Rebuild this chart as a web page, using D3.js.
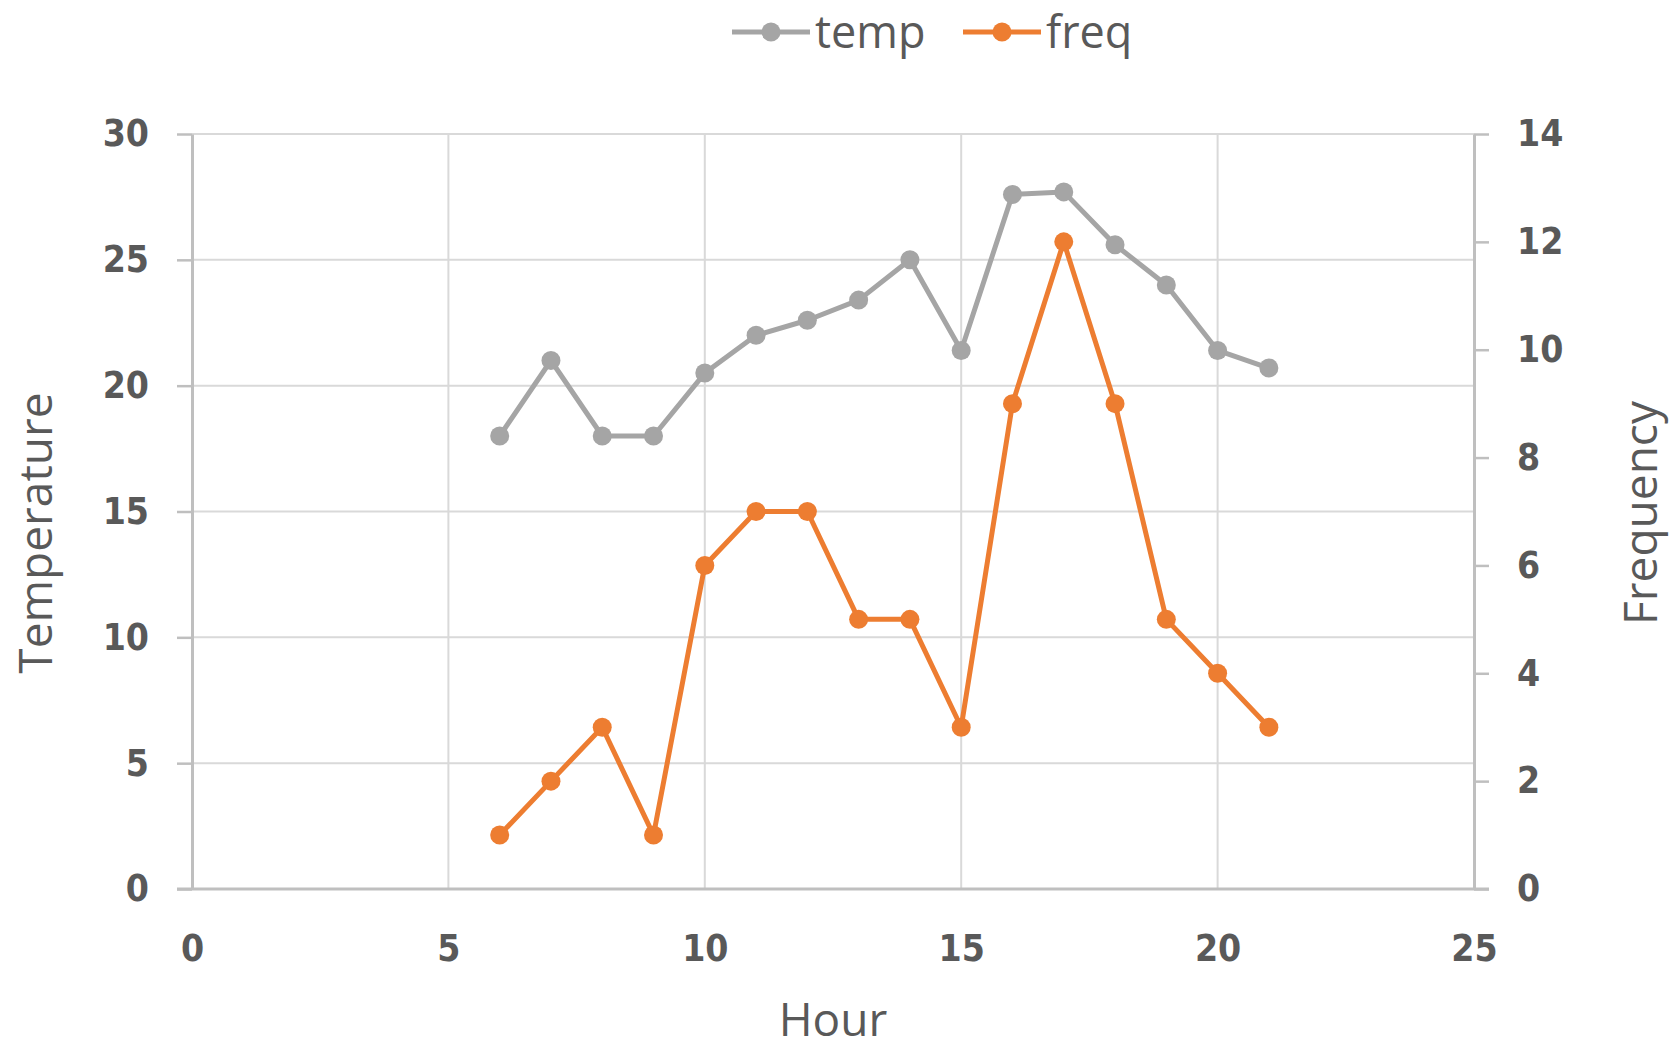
<!DOCTYPE html>
<html>
<head>
<meta charset="utf-8">
<script src="https://cdn.jsdelivr.net/npm/d3@7/dist/d3.min.js"></script>
<style>
  html, body { margin: 0; padding: 0; background: #ffffff; }
  svg { display: block; }
  .tick text { font-family: "DejaVu Sans", sans-serif; font-stretch: condensed; font-weight: bold; font-size: 37px; fill: #595959; }
  .title { font-family: "Open Sans", sans-serif; font-size: 46px; fill: #595959; }
  .legend text { font-family: "Open Sans", sans-serif; font-size: 45px; fill: #595959; }
</style>
</head>
<body>
<script>
// Hourly readings: temperature (left axis) and event frequency (right axis)
const hours = [6, 7, 8, 9, 10, 11, 12, 13, 14, 15, 16, 17, 18, 19, 20, 21];
const temp  = [18, 21, 18, 18, 20.5, 22, 22.6, 23.4, 25, 21.4, 27.6, 27.7, 25.6, 24, 21.4, 20.7];
const freq  = [1, 2, 3, 1, 6, 7, 7, 5, 5, 3, 9, 12, 9, 5, 4, 3];

const xTicks     = [0, 5, 10, 15, 20, 25];
const tempTicks  = [0, 5, 10, 15, 20, 25, 30];
const freqTicks  = [0, 2, 4, 6, 8, 10, 12, 14];

const seriesNames  = ["temp", "freq"];
const seriesColors = ["#A5A5A5", "#ED7D31"];

const W = 1675, H = 1044;
const plotL = 192, plotR = 1474, plotT = 134, plotB = 889;

const svg = d3.select("body").append("svg")
  .attr("width", W).attr("height", H);
svg.append("rect").attr("width", W).attr("height", H).attr("fill", "#ffffff");

const x  = d3.scaleLinear().domain([0, 25]).range([plotL, plotR]);
const yL = d3.scaleLinear().domain([0, 30]).range([plotB, plotT]);
const yR = d3.scaleLinear().domain([0, 14]).range([plotB, plotT]);

// gridlines
const grid = svg.append("g").attr("stroke", "#D9D9D9").attr("stroke-width", 2);
grid.selectAll("line.h").data(tempTicks.filter(d => d > 0)).join("line")
  .attr("class", "h")
  .attr("x1", plotL).attr("x2", plotR)
  .attr("y1", d => yL(d)).attr("y2", d => yL(d));
grid.selectAll("line.v").data(xTicks.filter(d => d > 0 && d < 25)).join("line")
  .attr("class", "v")
  .attr("x1", d => x(d)).attr("x2", d => x(d))
  .attr("y1", plotT).attr("y2", plotB);

// left axis
const axL = svg.append("g").attr("transform", `translate(${plotL},0)`)
  .call(d3.axisLeft(yL).tickValues(tempTicks).tickSize(15).tickSizeOuter(0).tickPadding(28));
// right axis
const axR = svg.append("g").attr("transform", `translate(${plotR},0)`)
  .call(d3.axisRight(yR).tickValues(freqTicks).tickSize(15).tickSizeOuter(0).tickPadding(28));
// bottom axis
const axB = svg.append("g").attr("transform", `translate(0,${plotB})`)
  .call(d3.axisBottom(x).tickValues(xTicks).tickSize(0).tickPadding(46));
axB.select(".domain").remove();
svg.append("line")
  .attr("x1", plotL - 15).attr("x2", plotR + 15)
  .attr("y1", plotB).attr("y2", plotB)
  .attr("stroke", "#BFBFBF").attr("stroke-width", 3);

[axL, axR].forEach(a => {
  a.select(".domain").attr("stroke", "#BFBFBF").attr("stroke-width", 3);
  a.selectAll(".tick line").attr("stroke", "#BFBFBF").attr("stroke-width", 2.5);
});

// series
const tempData = hours.map((h, i) => ({ h, v: temp[i] }));
const freqData = hours.map((h, i) => ({ h, v: freq[i] }));
const series = [
  { data: tempData, y: yL, color: seriesColors[0] },
  { data: freqData, y: yR, color: seriesColors[1] }
];
series.forEach(s => {
  const line = d3.line().x(d => x(d.h)).y(d => s.y(d.v));
  svg.append("path").datum(s.data)
    .attr("d", line).attr("fill", "none")
    .attr("stroke", s.color).attr("stroke-width", 5)
    .attr("stroke-linejoin", "round");
  svg.append("g").selectAll("circle").data(s.data).join("circle")
    .attr("cx", d => x(d.h)).attr("cy", d => s.y(d.v)).attr("r", 9.5)
    .attr("fill", s.color);
});

// axis titles
svg.append("text").attr("class", "title")
  .attr("transform", "translate(52,533) rotate(-90)")
  .attr("text-anchor", "middle").text("Temperature");
svg.append("text").attr("class", "title")
  .attr("transform", "translate(1657,513) rotate(-90)")
  .attr("text-anchor", "middle").text("Frequency");
svg.append("text").attr("class", "title")
  .attr("x", (plotL + plotR) / 2).attr("y", 1036)
  .attr("text-anchor", "middle").text("Hour");

// legend
const legendX = [732, 963];
const legend = svg.append("g").attr("class", "legend");
seriesNames.forEach((name, i) => {
  const g = legend.append("g").attr("transform", `translate(${legendX[i]},32)`);
  g.append("line").attr("x1", 0).attr("x2", 78).attr("y1", 0).attr("y2", 0)
    .attr("stroke", seriesColors[i]).attr("stroke-width", 5);
  g.append("circle").attr("cx", 39).attr("cy", 0).attr("r", 9.5).attr("fill", seriesColors[i]);
  g.append("text").attr("x", 83).attr("y", 16).text(name);
});
</script>
</body>
</html>
